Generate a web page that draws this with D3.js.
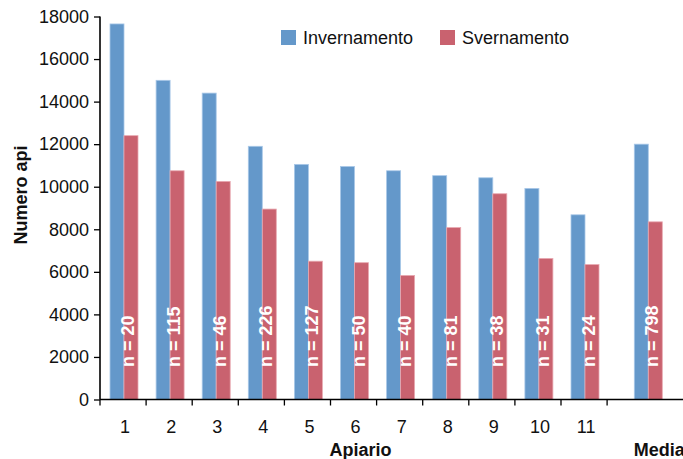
<!DOCTYPE html>
<html>
<head>
<meta charset="utf-8">
<script src="https://cdn.jsdelivr.net/npm/d3@7"></script>
<style>
  html, body { margin: 0; padding: 0; background: #fff; }
  svg { display: block; font-family: "Liberation Sans", Arial, sans-serif; }
</style>
</head>
<body>
<svg id="chart" width="683" height="459"></svg>
<script>
// ---- data ----
const categories = ["1","2","3","4","5","6","7","8","9","10","11"];
const invernamento = [17650, 15000, 14400, 11900, 11050, 10950, 10750, 10520, 10420, 9920, 8680];
const svernamento  = [12400, 10750, 10250, 8950, 6500, 6430, 5830, 8080, 9670, 6630, 6340];
const sampleSizes  = [20, 115, 46, 226, 127, 50, 40, 81, 38, 31, 24];
const mediaLabel = "Media";
const mediaInvernamento = 12000;
const mediaSvernamento = 8350;
const mediaN = 798;
const seriesNames = ["Invernamento", "Svernamento"];
const yTicks = [0, 2000, 4000, 6000, 8000, 10000, 12000, 14000, 16000, 18000];

const colors = { Invernamento: "#6498CA", Svernamento: "#C9626F" };
const strokes = { Invernamento: "#A9C8E8", Svernamento: "#E8A9B1" };

const svg = d3.select("#chart");
const plotLeft = 100, plotTop = 16.5, plotBottom = 399.5;

const y = d3.scaleLinear().domain([0, 18000]).range([plotBottom, plotTop]);
const x = d3.scaleBand().domain(categories).range([plotLeft, 607.1]).padding(0);
const xm = d3.scaleBand().domain([mediaLabel]).range([624.3, 670.4]).padding(0);
const xs = d3.scaleBand().domain(seriesNames).range([10, 38]).padding(0);

// rows
const rows = categories.map((c, i) => ({
  key: c, scale: x, n: sampleSizes[i],
  values: [invernamento[i], svernamento[i]]
}));
rows.push({ key: mediaLabel, scale: xm, n: mediaN, values: [mediaInvernamento, mediaSvernamento] });

// bars
const g = svg.append("g");
rows.forEach(r => {
  seriesNames.forEach((s, j) => {
    const v = r.values[j];
    g.append("rect")
      .attr("x", r.scale(r.key) + xs(s))
      .attr("y", y(v))
      .attr("width", xs.bandwidth())
      .attr("height", y(0) - y(v))
      .attr("fill", colors[s])
      .attr("stroke", strokes[s])
      .attr("stroke-width", 0.8);
  });
  // n labels
  const bx = r.scale(r.key) + xs("Svernamento") + 10;
  g.append("text")
    .attr("transform", `translate(${bx},367) rotate(-90)`)
    .attr("fill", "#fff")
    .attr("font-weight", "bold")
    .attr("font-size", 18)
    .text(`n = ${r.n}`);
});

// y axis
const yAxis = svg.append("g")
  .attr("transform", `translate(${plotLeft},0)`)
  .call(d3.axisLeft(y).tickValues(yTicks).tickSize(6).tickPadding(5).tickFormat(d3.format("d")));
yAxis.select(".domain").attr("stroke", "#000").attr("stroke-width", 1.6).attr("d", `M0,${plotTop}V${plotBottom}`);
yAxis.selectAll(".tick line").attr("stroke", "#000").attr("stroke-width", 1.3);
yAxis.selectAll(".tick text").attr("font-size", 18).attr("fill", "#111").attr("font-family", "Liberation Sans, Arial, sans-serif");

// x axis
const xAxisG = svg.append("g").attr("transform", `translate(0,${plotBottom})`);
xAxisG.append("line").attr("x1", plotLeft).attr("x2", 683).attr("y1", 0).attr("y2", 0)
  .attr("stroke", "#000").attr("stroke-width", 1.6);
const boundaries = categories.map(c => x(c)).concat([x(categories[categories.length - 1]) + x.bandwidth()]);
xAxisG.selectAll("line.tk").data(boundaries).enter().append("line")
  .attr("class", "tk")
  .attr("x1", d => d).attr("x2", d => d).attr("y1", 0).attr("y2", 6)
  .attr("stroke", "#000").attr("stroke-width", 1.3);
xAxisG.selectAll("text.cat").data(categories).enter().append("text")
  .attr("class", "cat")
  .attr("x", d => x(d) + x.bandwidth() / 2 + 2)
  .attr("y", 33)
  .attr("text-anchor", "middle")
  .attr("font-size", 18)
  .attr("fill", "#111")
  .text(d => d);

// axis titles
svg.append("text")
  .attr("x", (x(categories[0]) + x(categories[10]) + x.bandwidth()) / 2 + 7)
  .attr("y", 456)
  .attr("text-anchor", "middle")
  .attr("font-weight", "bold")
  .attr("font-size", 18)
  .attr("fill", "#111")
  .text("Apiario");
svg.append("text")
  .attr("x", xm(mediaLabel) + 9.5)
  .attr("y", 456)
  .attr("font-weight", "bold")
  .attr("font-size", 18)
  .attr("fill", "#111")
  .text(mediaLabel);
svg.append("text")
  .attr("transform", `translate(27,195) rotate(-90)`)
  .attr("text-anchor", "middle")
  .attr("font-weight", "bold")
  .attr("font-size", 18)
  .attr("fill", "#111")
  .text("Numero api");

// legend
const legendX = [281, 440];
seriesNames.forEach((s, i) => {
  svg.append("rect").attr("x", legendX[i]).attr("y", 30).attr("width", 15).attr("height", 15)
    .attr("fill", colors[s]);
  svg.append("text").attr("x", legendX[i] + 22).attr("y", 44)
    .attr("font-size", 18).attr("fill", "#111").text(s);
});
</script>
</body>
</html>
